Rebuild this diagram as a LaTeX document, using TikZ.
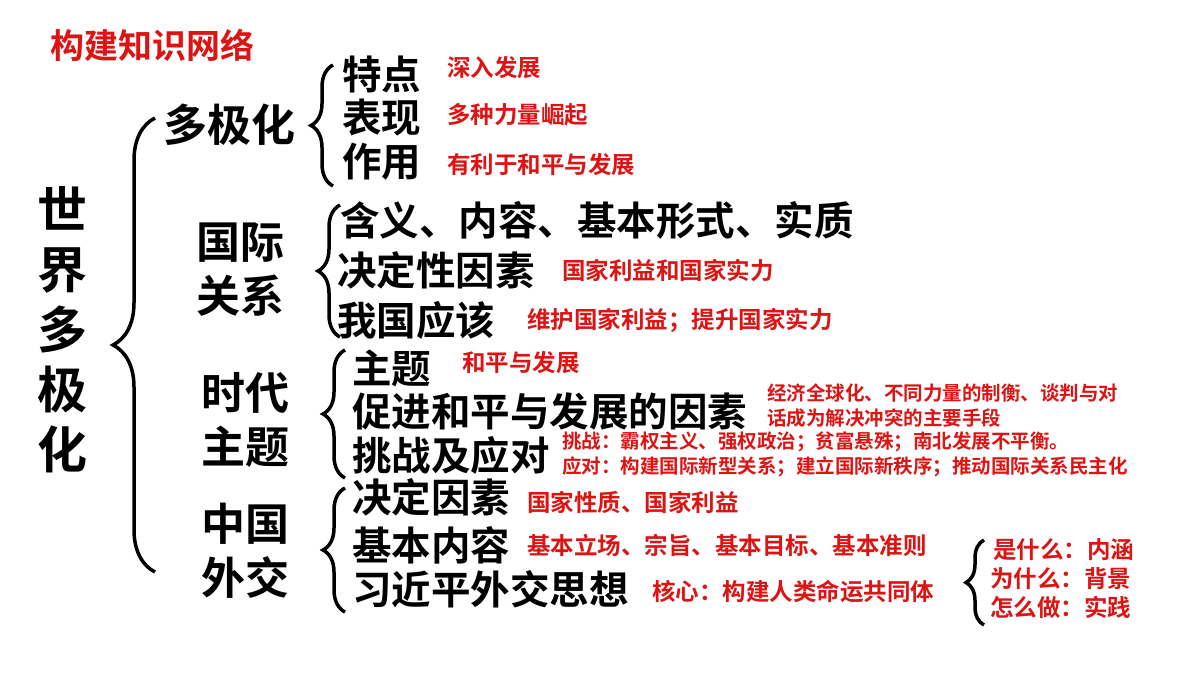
\documentclass[tikz,border=0pt]{standalone}
\usepackage{fontspec}
\setmainfont{Noto Sans CJK SC}[BoldFont={Noto Sans CJK SC Bold}]
\usetikzlibrary{decorations.pathreplacing}
\definecolor{myred}{RGB}{220,20,20}
\tikzset{
 x=1pt,y=1pt,
 blk/.style={anchor=west,inner sep=0pt,font=\bfseries\fontsize{39.5}{40}\selectfont},
 sub/.style={anchor=center,inner sep=0pt,font=\bfseries\fontsize{44}{54}\selectfont,align=center},
 rl/.style={anchor=west,inner sep=0pt,text=myred,font=\bfseries\fontsize{23.5}{24}\selectfont},
 rs/.style={anchor=west,inner sep=0pt,text=myred,font=\bfseries\fontsize{19.5}{25}\selectfont,align=left},
 br/.style={line width=3.5pt,decorate,decoration={brace,amplitude=#1}},
}
\begin{document}
\begin{tikzpicture}
\useasboundingbox[fill=white] (0,0) rectangle (1200,-675);
\node[anchor=west,inner sep=0pt,text=myred,font=\bfseries\fontsize{34}{36}\selectfont] (title) at (50,-45) {构建知识网络};
\node[inner sep=0pt,font=\bfseries\fontsize{50}{60}\selectfont,align=center] (main) at (62,-330) {世\\界\\多\\极\\化};
\draw[br=42] (155,-572) -- (155,-118);
\node[anchor=west,inner sep=0pt,font=\bfseries\fontsize{44}{44}\selectfont] (dj) at (163,-125) {多极化};
\draw[br=22] (333,-186) -- (333,-65);
\node[blk] (a1) at (342,-74) {特点};
\node[blk] (a2) at (342,-118) {表现};
\node[blk] (a3) at (342,-162) {作用};
\node[rl] (r1) at (447,-68) {深入发展};
\node[rl] (r2) at (447,-115) {多种力量崛起};
\node[rl] (r3) at (447,-165) {有利于和平与发展};
\node[sub] (gj) at (240,-270) {国际\\关系};
\draw[br=22] (340,-337) -- (340,-205);
\node[blk] (b1) at (340,-220) {含义、内容、基本形式、实质};
\node[blk] (b2) at (337,-270) {决定性因素};
\node[blk] (b3) at (337,-320) {我国应该};
\node[rl] (s2) at (562,-270) {国家利益和国家实力};
\node[rl] (s3) at (527,-320) {维护国家利益；提升国家实力};
\node[sub] (sd) at (245,-420) {时代\\主题};
\draw[br=22] (345,-478) -- (345,-350);
\node[blk] (c1) at (352,-368) {主题};
\node[blk] (c2) at (352,-411) {促进和平与发展的因素};
\node[blk] (c3) at (352,-455) {挑战及应对};
\node[rl] (t1) at (462,-363) {和平与发展};
\node[rs] (t2) at (767,-406) {经济全球化、不同力量的制衡、谈判与对\\话成为解决冲突的主要手段};
\node[rs] (t3) at (562,-454) {挑战：霸权主义、强权政治；贫富悬殊；南北发展不平衡。\\应对：构建国际新型关系；建立国际新秩序；推动国际关系民主化};
\node[sub] (zg) at (245,-551) {中国\\外交};
\draw[br=22] (345,-612) -- (345,-488);
\node[blk] (d1) at (352,-497) {决定因素};
\node[blk] (d2) at (352,-545) {基本内容};
\node[blk] (d3) at (352,-589) {习近平外交思想};
\node[rl] (u1) at (527,-502) {国家性质、国家利益};
\node[rl] (u2) at (527,-545) {基本立场、宗旨、基本目标、基本准则};
\node[rl] (u3) at (652,-592) {核心：构建人类命运共同体};
\draw[br=18] (984,-625) -- (984,-540);
\node[rl] (v1) at (993,-550) {是什么：内涵};
\node[rl] (v2) at (990,-579) {为什么：背景};
\node[rl] (v3) at (990,-607) {怎么做：实践};
\end{tikzpicture}
\end{document}
